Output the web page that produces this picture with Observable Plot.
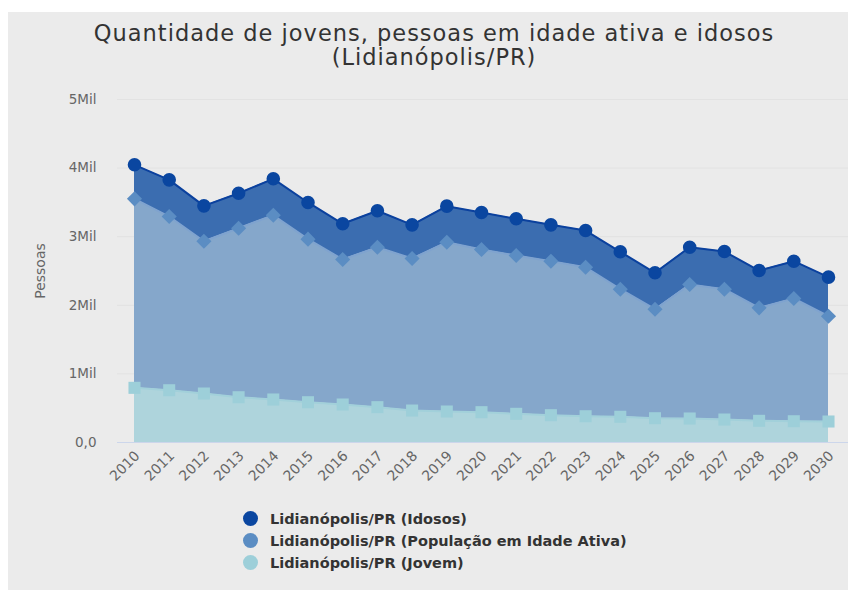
<!DOCTYPE html>
<html><head><meta charset="utf-8">
<script src="https://cdn.jsdelivr.net/npm/d3@7"></script>
<script src="https://cdn.jsdelivr.net/npm/@observablehq/plot@0.6"></script>
<style>
html,body{margin:0;padding:0;background:#fff;}
body{width:848px;height:590px;overflow:hidden;position:relative;font-family:"DejaVu Sans",sans-serif;}
#panel{position:absolute;left:8px;top:12px;width:840px;height:578px;background:#ebebeb;}
#title{position:absolute;left:0;top:21px;width:868px;text-align:center;font-size:22.5px;line-height:24px;letter-spacing:1px;color:#333;}
#chart{position:absolute;left:8px;top:12px;}
#legend{position:absolute;left:243px;top:508px;font-size:14.5px;font-weight:bold;color:#333;}
#legend .item{height:22px;line-height:22px;white-space:nowrap;}
#legend .sw{display:inline-block;width:15px;height:15px;border-radius:50%;vertical-align:-2px;margin-right:12px;}
</style></head>
<body>
<div id="panel"></div>
<div id="title">Quantidade de jovens, pessoas em idade ativa e idosos<br>(Lidianópolis/PR)</div>
<div id="chart"></div>
<div id="legend"></div>
<script>
const years = [2010,2011,2012,2013,2014,2015,2016,2017,2018,2019,2020,2021,2022,2023,2024,2025,2026,2027,2028,2029,2030];
const jovem  = [797,762,714,660,627,587,554,515,466,452,442,418,398,383,375,354,350,335,316,310,306];
const ativa  = [2755,2532,2220,2464,2686,2377,2114,2332,2216,2468,2371,2308,2245,2172,1860,1589,1953,1900,1647,1789,1535];
const idosos = [496,535,516,510,531,535,520,531,491,525,540,535,530,535,545,531,544,549,544,544,569];
const seriesNames = ["Lidianópolis/PR (Jovem)","Lidianópolis/PR (População em Idade Ativa)","Lidianópolis/PR (Idosos)"];
const legendOrder = ["Lidianópolis/PR (Idosos)","Lidianópolis/PR (População em Idade Ativa)","Lidianópolis/PR (Jovem)"];
const areaColors   = ["#aed4dc","#85a7cb","#3b6db0"];
const lineColors   = ["#a2d0da","#7fa3cf","#0b419e"];
const markerColors = ["#9dcfd9","#5b8dc3","#0a46a0"];
const symbols      = ["square","diamond2","circle"];
const yTicks = [0,1000,2000,3000,4000,5000];
const yTickLabels = ["0,0","1Mil","2Mil","3Mil","4Mil","5Mil"];

const valuesBySeries = [jovem, ativa, idosos];
const data = [];
seriesNames.forEach((s, i) => years.forEach((y, j) => data.push({year: y, value: valuesBySeries[i][j], serie: s})));
const idx = s => seriesNames.indexOf(s);

const chart = Plot.plot({
  width: 840, height: 500,
  marginLeft: 109, marginRight: 0, marginTop: 87, marginBottom: 70,
  style: {background: "transparent", fontFamily: "DejaVu Sans, sans-serif", fontSize: "12px", color: "#666"},
  x: {domain: [2010, 2030], range: [126, 820], axis: null},
  y: {domain: [0, 5000], axis: null},
  color: {domain: seriesNames, range: areaColors},
  symbol: {domain: seriesNames, range: symbols},
  marks: [
    Plot.ruleY(yTicks.slice(1), {stroke: "#e2e2e2", strokeWidth: 1}),
    Plot.areaY(data, {x: "year", y: "value", z: "serie", fill: "serie", order: seriesNames, fillOpacity: 1}),
    Plot.line(data, Plot.stackY2({x: "year", y: "value", z: "serie", order: seriesNames,
      stroke: {value: d => lineColors[idx(d.serie)], scale: null}, strokeWidth: 2})),
    Plot.ruleY([0], {stroke: "#ccd6eb", strokeWidth: 1}),
    Plot.dot(data, Plot.stackY2({x: "year", y: "value", z: "serie", order: seriesNames,
      symbol: "serie", fill: {value: d => markerColors[idx(d.serie)], scale: null}, r: 6.8})),
    Plot.axisY(yTicks, {tickSize: 0, tickPadding: 21, fontSize: 13.5, tickFormat: d => yTickLabels[yTicks.indexOf(d)], label: null}),
    Plot.text(["Pessoas"], {frameAnchor: "left", dx: -77, rotate: -90, textAnchor: "middle", fontSize: 14, fill: "#666"}),
    Plot.text(years, {x: d => d, text: d => String(d), frameAnchor: "bottom", dx: 3, dy: 11, rotate: -45, textAnchor: "end", lineAnchor: "middle", fontSize: 14, fill: "#666"})
  ]
});
document.getElementById("chart").appendChild(chart);

const legend = document.getElementById("legend");
legendOrder.forEach(name => {
  const i = seriesNames.indexOf(name);
  const item = document.createElement("div");
  item.className = "item";
  const sw = document.createElement("span");
  sw.className = "sw";
  sw.style.background = markerColors[i];
  item.appendChild(sw);
  item.appendChild(document.createTextNode(name));
  legend.appendChild(item);
});
</script>
</body></html>
